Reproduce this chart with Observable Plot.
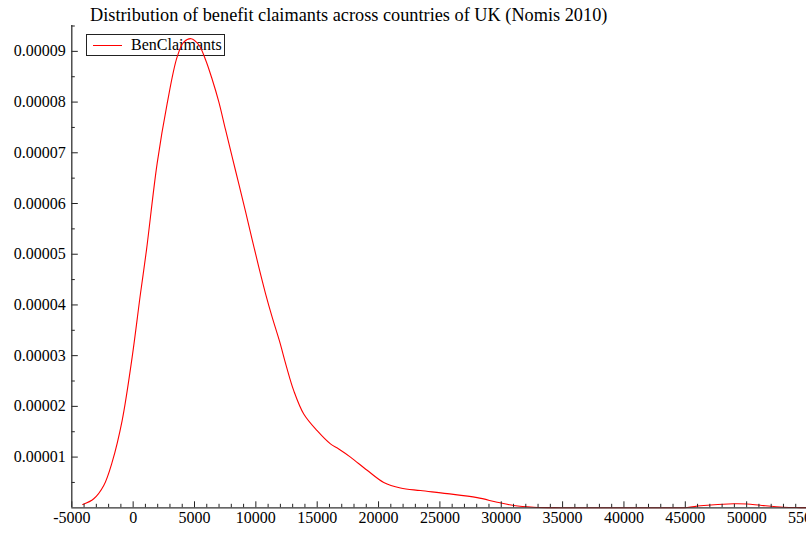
<!DOCTYPE html>
<html>
<head>
<meta charset="utf-8">
<script src="https://cdn.jsdelivr.net/npm/d3@7"></script>
<script src="https://cdn.jsdelivr.net/npm/@observablehq/plot@0.6"></script>
<style>
  html, body { margin: 0; padding: 0; background: #fff; overflow: hidden; width: 806px; height: 533px; }
  #wrap { position: relative; width: 806px; height: 533px; overflow: hidden; font-family: "Liberation Serif", "DejaVu Serif", serif; background: #fff; }
  #title { position: absolute; left: 90px; top: 5px; font-size: 18.3px; white-space: nowrap; color: #000; }
  #legend { position: absolute; left: 86px; top: 34px; width: 137px; height: 20px; border: 1px solid #222; background: #fff; box-sizing: content-box; }
  #legend .sw { position: absolute; left: 6px; top: 10px; width: 29px; height: 0; border-top: 1px solid #ff0000; }
  #legend .lb { position: absolute; left: 44px; top: 1px; font-size: 16px; white-space: nowrap; }
  #chart svg { position: absolute; left: 0; top: 0; max-width: none !important; background: transparent !important; }
</style>
</head>
<body>
<div id="wrap">
  <div id="title"></div>
  <div id="legend"><div class="sw"></div><div class="lb"></div></div>
  <div id="chart"></div>
</div>
<script>
const titleText = "Distribution of benefit claimants across countries of UK (Nomis 2010)";
const seriesName = "BenClaimants";

// Kernel density curve
const claimants = [-4108, -3211, -2396, -1712, -897, -81, 595, 1080, 1956, 2771, 3586, 4124, 4727, 5346, 5892, 6439, 6976, 7524, 8069, 8606, 9152, 9699, 10236, 10782, 11329, 11923, 12500, 13089, 13904, 14996, 16080, 16756, 17710, 19071, 20424, 21785, 23415, 25591, 28036, 29666, 31019, 32649, 34825, 38085, 42160, 45151, 46235, 48949, 50042, 51126, 53000, 54386, 56000];
const density = [0.065e-5, 0.178e-5, 0.44e-5, 0.90e-5, 1.72e-5, 2.97e-5, 4.22e-5, 5.07e-5, 6.79e-5, 7.97e-5, 8.89e-5, 9.18e-5, 9.25e-5, 9.13e-5, 8.84e-5, 8.45e-5, 8.01e-5, 7.46e-5, 6.92e-5, 6.39e-5, 5.85e-5, 5.29e-5, 4.75e-5, 4.23e-5, 3.76e-5, 3.29e-5, 2.78e-5, 2.31e-5, 1.85e-5, 1.52e-5, 1.26e-5, 1.16e-5, 1.00e-5, 0.74e-5, 0.50e-5, 0.39e-5, 0.34e-5, 0.28e-5, 0.20e-5, 0.11e-5, 0.045e-5, 0.012e-5, 0.002e-5, 0, 0.002e-5, 0.006e-5, 0.04e-5, 0.08e-5, 0.075e-5, 0.05e-5, 0.012e-5, 0.004e-5, 0];

const xTicks = [-5000, 0, 5000, 10000, 15000, 20000, 25000, 30000, 35000, 40000, 45000, 50000, 55000];
const xMinor = d3.range(-5000, 55001, 1000);
const yTicks = [0.00001, 0.00002, 0.00003, 0.00004, 0.00005, 0.00006, 0.00007, 0.00008, 0.00009];
const yMinor = [0.000005, 0.000015, 0.000025, 0.000035, 0.000045, 0.000055, 0.000065, 0.000075, 0.000085, 0.000095];

const data = claimants.map((x, i) => ({x, y: density[i]}));

document.getElementById("title").textContent = titleText;
document.querySelector("#legend .lb").textContent = seriesName;

const chart = Plot.plot({
  width: 830,
  height: 533,
  marginLeft: 71.3,
  marginRight: 22.5,
  marginTop: 25,
  marginBottom: 25.7,
  style: {fontFamily: "'Liberation Serif', 'DejaVu Serif', serif", fontSize: "16px", color: "#000", background: "transparent", overflow: "visible", maxWidth: "none"},
  x: {domain: [-5000, 55000], label: null},
  y: {domain: [0, 0.0000951], label: null},
  marks: [
    Plot.line(data, {x: "x", y: "y", stroke: "#ff0000", strokeWidth: 1.1, curve: "catmull-rom"}),
    Plot.axisX({ticks: xTicks, tickSize: 0, tickPadding: 4, tickFormat: d => String(d), fill: "#000", label: null}),
    Plot.axisX({ticks: xTicks, tickSize: -6, text: null, stroke: "#222", label: null}),
    Plot.axisX({ticks: xMinor.filter(v => v % 5000 !== 0), tickSize: -3.5, text: null, stroke: "#222", label: null}),
    Plot.axisY({ticks: yTicks, tickSize: 0, tickPadding: 6, tickFormat: d3.format(".5f"), fill: "#000", label: null}),
    Plot.axisY({ticks: yTicks, tickSize: -6.5, text: null, stroke: "#222", label: null}),
    Plot.axisY({ticks: yMinor, tickSize: -3.5, text: null, stroke: "#222", label: null}),
    Plot.ruleX([-5000], {stroke: "#333", strokeWidth: 1.3}),
    Plot.ruleY([0], {stroke: "#333", strokeWidth: 1.3})
  ]
});
document.getElementById("chart").appendChild(chart);
</script>
</body>
</html>
